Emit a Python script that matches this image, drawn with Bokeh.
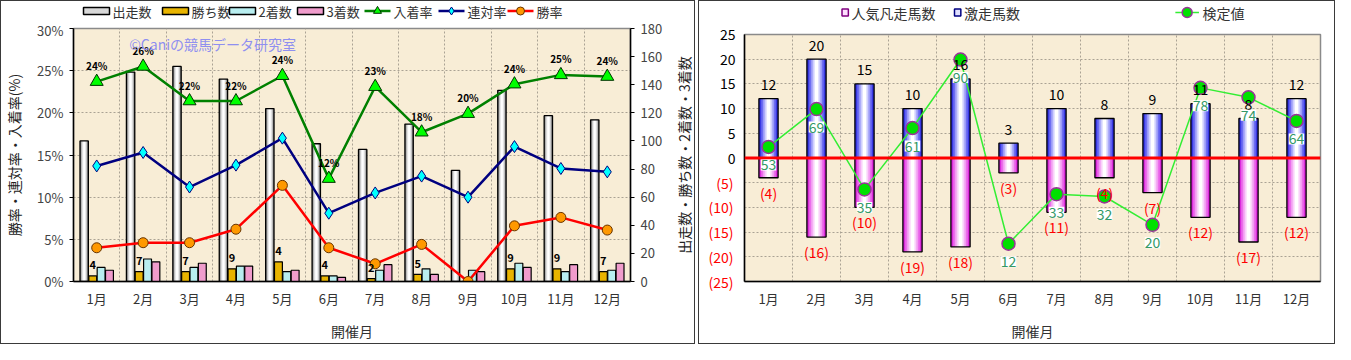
import numpy as np
from bokeh.plotting import figure
from bokeh.models import (ColumnDataSource, Range1d, LinearAxis, FixedTicker,
                          LabelSet, Label, Span)
from bokeh.layouts import row, column
from bokeh.transform import dodge
from bokeh.core.properties import value
from bokeh.embed import file_html
from bokeh.resources import INLINE

FONT = "Noto Sans CJK JP"
VF = value(FONT)

# ---------------- data ----------------
months = ["1月", "2月", "3月", "4月", "5月", "6月", "7月", "8月", "9月", "10月", "11月", "12月"]

# left chart
starts = [100, 149, 153, 144, 123, 98, 94, 112, 79, 136, 118, 115]
wins = [4, 7, 7, 9, 14, 4, 2, 5, 0, 9, 9, 7]
seconds = [10, 16, 10, 11, 7, 4, 8, 9, 8, 13, 7, 8]
thirds = [8, 14, 13, 11, 8, 3, 12, 5, 7, 10, 12, 13]
place_rate = [23.7, 25.5, 21.4, 21.4, 24.4, 12.2, 23.1, 17.7, 19.9, 23.4, 24.5, 24.3]
rentai_rate = [13.7, 15.3, 11.2, 13.8, 17.0, 8.1, 10.5, 12.5, 10.0, 16.0, 13.4, 13.0]
win_rate = [4.0, 4.6, 4.6, 6.2, 11.4, 4.0, 2.1, 4.4, 0.0, 6.6, 7.6, 6.1]
place_labels = ["24%", "26%", "22%", "22%", "24%", "12%", "23%", "18%", "20%", "24%", "25%", "24%"]
win_labels = ["4", "7", "7", "9", "4", "4", "2", "5", "", "9", "9", "7"]

left_ticks = [0, 5, 10, 15, 20, 25, 30]
left_tick_labels = ["0%", "5%", "10%", "15%", "20%", "25%", "30%"]
cnt_ticks = [0, 20, 40, 60, 80, 100, 120, 140, 160, 180]
cnt_tick_labels = ["0", "20", "40", "60", "80", "100", "120", "140", "160", "180"]
right_axis_title = "出走数・勝ち数・2着数・3着数"
left_bar_names = ["出走数", "勝ち数", "2着数", "3着数"]
left_line_names = ["入着率", "連対率", "勝率"]

# right chart
geki = [12, 20, 15, 10, 16, 3, 10, 8, 9, 11, 8, 12]
ninki = [4, 16, 10, 19, 18, 3, 11, 4, 7, 12, 17, 12]
kentei = [53, 69, 35, 61, 90, 12, 33, 32, 20, 78, 74, 64]
r_yticks = [-25, -20, -15, -10, -5, 0, 5, 10, 15, 20, 25]
r_ytick_labels = ["(25)", "(20)", "(15)", "(10)", "(5)", "0", "5", "10", "15", "20", "25"]
right_bar_names = ["人気凡走馬数", "激走馬数"]
right_line_name = "検定値"

# ---------------- colours ----------------
C_START = ["#7c7c7c", "#a9a9a9", "#d2d2d2", "#efefef", "#ffffff"]
C_WIN, C_SEC, C_THR = "#e8b400", "#b8eef0", "#f09ccc"
C_BLUE = ["#3030e0", "#6060f0", "#9a9af8", "#cfcffd", "#ffffff"]
C_PINK = ["#d820d8", "#e860e8", "#f29cf2", "#fad0fa", "#ffffff"]

# ---------------- helpers ----------------
xs = list(range(1, len(months) + 1))
H = 342
BORDER = {"border": "1px solid #3a3a3a"}


def style_common(p):
    p.background_fill_color = "#f8edd6"
    p.border_fill_color = "white"
    p.outline_line_color = "#8a8a8a"
    p.outline_line_width = 1.5
    p.xgrid.ticker = FixedTicker(ticks=[i + 0.5 for i in xs[:-1]])
    for g in (p.xgrid, p.ygrid):
        g.grid_line_color = "#aaa294"
        g.grid_line_dash = "2 2"
        g.grid_line_width = 1
    xa = p.below[0]
    xa.ticker = FixedTicker(ticks=xs)
    xa.major_label_overrides = {x: m for x, m in zip(xs, months)}
    xa.major_label_text_font = FONT
    xa.major_label_text_font_size = "13px"
    xa.major_label_text_color = "#333333"
    xa.major_label_standoff = 7
    xa.major_tick_in = 0
    xa.major_tick_out = 0
    xa.minor_tick_line_color = None
    xa.axis_line_color = "black"
    xa.axis_line_width = 1.5
    xa.axis_label = "開催月"
    xa.axis_label_text_font = FONT
    xa.axis_label_text_font_size = "14px"
    xa.axis_label_text_font_style = "normal"
    xa.axis_label_text_color = "#333333"
    xa.axis_label_standoff = 10


def blank_fig(width, height, x_range, y_range, top=0, bottom=0):
    f = figure(width=width, height=height, x_range=x_range, y_range=y_range,
               output_backend="svg", toolbar_location=None, title=None,
               x_axis_location=None, y_axis_location=None,
               min_border_left=0, min_border_right=0, min_border_top=top,
               min_border_bottom=bottom)
    f.grid.visible = False
    f.outline_line_color = None
    f.background_fill_color = "white"
    f.border_fill_color = "white"
    return f


def grad_bars(p, source, off, width, top, bottom, colors, **kw):
    n = len(colors)
    for k, c in enumerate(colors):
        w = width * (n - k) / n
        p.vbar(x=dodge("x", off), width=w, top=top, bottom=bottom, source=source,
               fill_color=c, line_color=None, **kw)
    p.vbar(x=dodge("x", off), width=width, top=top, bottom=bottom, source=source,
           fill_color=None, line_color="black", line_width=1.3, **kw)


def legend_text(f, x, y, txt, size):
    f.text(x=[x], y=[y], text=[txt], text_font=VF, text_font_size=size,
           text_color="#333333", text_align="left", text_baseline="middle")


# ---------------- left figure ----------------
src = ColumnDataSource(dict(x=xs, starts=starts, wins=wins, seconds=seconds, thirds=thirds,
                            place=place_rate, rentai=rentai_rate, winr=win_rate,
                            place_lbl=place_labels, win_lbl=win_labels))

S1, TOP1, BOT1 = 19, 27, 56
p1 = figure(width=669, height=H - S1, x_range=Range1d(0.5, 12.5), y_range=Range1d(0, 30),
            output_backend="svg", toolbar_location=None, title=None,
            min_border_left=66, min_border_right=40, min_border_top=TOP1 - S1,
            min_border_bottom=BOT1)
cnt_range = Range1d(0, 180)
p1.extra_y_ranges = {"cnt": cnt_range}
style_common(p1)
p1.ygrid.ticker = FixedTicker(ticks=left_ticks)

ya = p1.left[0]
ya.ticker = FixedTicker(ticks=left_ticks)
ya.major_label_overrides = {t: s for t, s in zip(left_ticks, left_tick_labels)}
ya.axis_label = "勝率・連対率・入着率(%)"

ra = LinearAxis(y_range_name="cnt", ticker=FixedTicker(ticks=cnt_ticks),
                major_label_overrides={t: s for t, s in zip(cnt_ticks, cnt_tick_labels)})
p1.add_layout(ra, "right")
for ax in (ya, ra):
    ax.major_label_text_font = FONT
    ax.major_label_text_font_size = "13px"
    ax.major_label_text_color = "#444444"
    ax.major_tick_in = 0
    ax.major_tick_out = 4
    ax.minor_tick_line_color = None
    ax.axis_line_color = "black"
    ax.axis_line_width = 1.5
    ax.major_label_standoff = 6
ya.axis_label_text_font = FONT
ya.axis_label_text_font_size = "14px"
ya.axis_label_text_font_style = "normal"
ya.axis_label_text_color = "#222222"
ya.axis_label_standoff = 10

grad_bars(p1, src, -0.27, 0.18, "starts", 0, C_START, y_range_name="cnt")
p1.vbar(x=dodge("x", -0.085), width=0.17, top="wins", bottom=0, source=src,
        fill_color=C_WIN, line_color="black", line_width=1.2, y_range_name="cnt")
p1.vbar(x=dodge("x", 0.095), width=0.17, top="seconds", bottom=0, source=src,
        fill_color=C_SEC, line_color="black", line_width=1.2, y_range_name="cnt")
p1.vbar(x=dodge("x", 0.275), width=0.17, top="thirds", bottom=0, source=src,
        fill_color=C_THR, line_color="black", line_width=1.2, y_range_name="cnt")

LINE_STYLES = [("#008000", "triangle", 13, "#00ff00", "#003300"),
               ("#000080", "diamond", 12, "#00ffff", "#000080"),
               ("#ff0000", "circle", 10, "#ff9900", "#663300")]
for col, st in zip(["place", "rentai", "winr"], LINE_STYLES):
    p1.line("x", col, source=src, line_color=st[0], line_width=2.5)
    p1.scatter("x", col, source=src, marker=st[1], size=st[2], fill_color=st[3],
               line_color=st[4], line_width=1)

p1.add_layout(LabelSet(x="x", y="place", text="place_lbl", source=src, y_offset=16,
                       text_align="center", text_baseline="middle", text_font=VF,
                       text_font_size="10px", text_font_style="bold", text_color="black"))
p1.add_layout(LabelSet(x=dodge("x", -0.085), y="wins", y_range_name="cnt", text="win_lbl",
                       source=src, y_offset=11, text_align="center", text_baseline="middle",
                       text_font=VF, text_font_size="11px", text_font_style="bold",
                       text_color="black"))
p1.add_layout(Label(x=1.7, y=28.2, text="©Caniの競馬データ研究室", text_font=FONT,
                    text_font_size="14px", text_color="#8f8ff0", text_baseline="middle"))

# right-axis title of the left chart, in its own strip
p1r = blank_fig(24, H - S1, Range1d(0, 1), cnt_range, TOP1 - S1, BOT1)
p1r.text(x=[0.55], y=[90], text=[right_axis_title], angle=np.pi / 2, text_font=VF,
         text_font_size="14px", text_color="#222222", text_align="center",
         text_baseline="middle")

# legend strip of the left chart
W1 = 669 + 24
lg1 = blank_fig(W1, S1, Range1d(0, W1), Range1d(0, S1))
yc = S1 / 2
bar_icon_x = [82, 161, 228, 296]
for name, ix, fc in zip(left_bar_names, bar_icon_x, ["#d8d8d8", C_WIN, C_SEC, C_THR]):
    lg1.rect(x=[ix + 13], y=[yc], width=26, height=7, fill_color=fc, line_color="black",
             line_width=1.5)
    legend_text(lg1, ix + 29, yc, name, "13px")
line_icon_x = [363, 437, 506]
for name, ix, st in zip(left_line_names, line_icon_x, LINE_STYLES):
    lg1.line(x=[ix, ix + 26], y=[yc, yc], line_color=st[0], line_width=2.5)
    lg1.scatter(x=[ix + 13], y=[yc], marker=st[1], size=8, fill_color=st[3],
                line_color=st[4], line_width=1)
    legend_text(lg1, ix + 29, yc, name, "13px")

# ---------------- right figure ----------------
src2 = ColumnDataSource(dict(x=xs, geki=geki, neg=[-v for v in ninki], kentei=kentei,
                             geki_lbl=[str(v) for v in geki],
                             ninki_lbl=["(%d)" % v for v in ninki],
                             kentei_lbl=[str(v) for v in kentei]))

S2, TOP2, BOT2 = 22, 33, 56
r_range = Range1d(-25, 25)
p2 = figure(width=635, height=H - S2, x_range=Range1d(0.5, 12.5), y_range=r_range,
            output_backend="svg", toolbar_location=None, title=None,
            min_border_left=45, min_border_right=14, min_border_top=TOP2 - S2,
            min_border_bottom=BOT2)
p2.extra_y_ranges = {"val": Range1d(-4, 100.6)}
style_common(p2)
p2.ygrid.ticker = FixedTicker(ticks=r_yticks)

# y tick labels: positives black on the inner axis, negatives red on an outer axis
pos_over = {t: (s if t >= 0 else "") for t, s in zip(r_yticks, r_ytick_labels)}
neg_over = {t: (s if t < 0 else "") for t, s in zip(r_yticks, r_ytick_labels)}
ya2 = p2.left[0]
ya2.ticker = FixedTicker(ticks=r_yticks)
ya2.major_label_overrides = pos_over
ya2.major_label_text_color = "black"
ya2.axis_line_color = "black"
ya2.axis_line_width = 1.5
neg_ax = LinearAxis(ticker=FixedTicker(ticks=r_yticks), major_label_overrides=neg_over,
                    major_label_text_color="#ff0000", axis_line_color=None)
p2.add_layout(neg_ax, "left")
for ax in (ya2, neg_ax):
    ax.major_label_text_font = FONT
    ax.major_label_text_font_size = "14px"
    ax.major_tick_in = 0
    ax.major_tick_out = 0
    ax.major_tick_line_color = None
    ax.minor_tick_line_color = None
ya2.major_label_standoff = 9
neg_ax.major_label_standoff = -17

grad_bars(p2, src2, 0, 0.4, "geki", 0, C_BLUE)
grad_bars(p2, src2, 0, 0.4, 0, "neg", C_PINK)

p2.add_layout(Span(location=0, dimension="width", line_color="#ff0000", line_width=3))

p2.add_layout(LabelSet(x="x", y="geki", text="geki_lbl", source=src2, y_offset=14,
                       text_align="center", text_baseline="middle", text_font=VF,
                       text_font_size="14px", text_color="black"))
p2.add_layout(LabelSet(x="x", y="neg", text="ninki_lbl", source=src2, y_offset=-15,
                       text_align="center", text_baseline="middle", text_font=VF,
                       text_font_size="14px", text_color="#ff0000"))

p2.line("x", "kentei", source=src2, y_range_name="val", line_color="#33ee33", line_width=1.5)
p2.scatter("x", "kentei", source=src2, y_range_name="val", marker="circle", size=13,
           fill_color="#00e000", line_color="#993399", line_width=1.5)
p2.add_layout(LabelSet(x="x", y="kentei", y_range_name="val", text="kentei_lbl", source=src2,
                       y_offset=-18, text_align="center", text_baseline="middle",
                       text_font=VF, text_font_size="14px", text_color="#339966",
                       background_fill_color="white"))

# legend strip of the right chart
W2 = 635
lg2 = blank_fig(W2, S2, Range1d(0, W2), Range1d(0, S2))
yc2 = S2 / 2
for name, cx, fc, lc in zip(right_bar_names, [111, 235], ["#ffe0ff", "#e0e0ff"],
                            ["#800080", "#000080"]):
    lg2.rect(x=[cx], y=[yc2], width=7, height=7, fill_color=fc, line_color=lc, line_width=1.5)
    legend_text(lg2, cx + 7, yc2, name, "14px")
lg2.line(x=[475, 501], y=[yc2, yc2], line_color="#33ee33", line_width=1.5)
lg2.scatter(x=[488], y=[yc2], marker="circle", size=10, fill_color="#00e000",
            line_color="#993399", line_width=1.5)
legend_text(lg2, 505, yc2, right_line_name, "14px")

left_panel = column(lg1, row(p1, p1r, spacing=0), spacing=0, styles=BORDER)
right_panel = column(lg2, p2, spacing=0, styles=BORDER)
layout = row(left_panel, right_panel, spacing=3)
open("out.html", "w").write(file_html(layout, INLINE))
